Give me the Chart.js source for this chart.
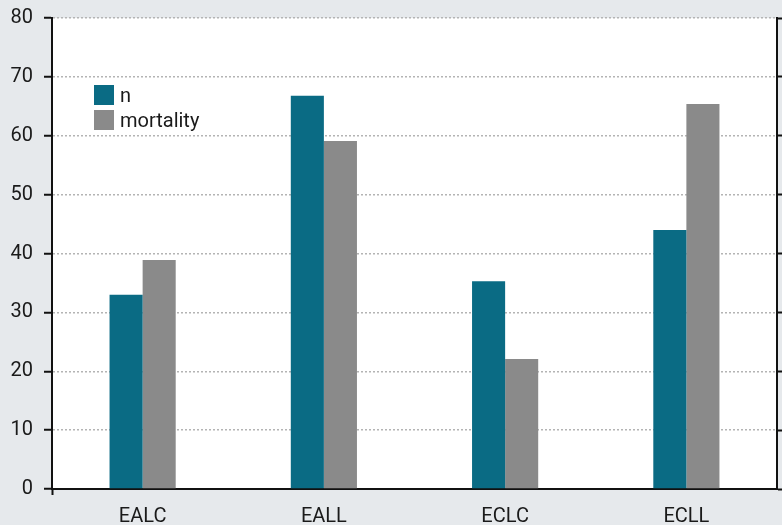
<!DOCTYPE html>
<html>
<head>
<meta charset="utf-8">
<script src="https://cdn.jsdelivr.net/npm/chart.js@4.4.1/dist/chart.umd.min.js"></script>
<style>
    html, body { margin: 0; padding: 0; background: #e6e9ec; }
    #wrap { position: relative; width: 782px; height: 525px; }
    #legend { position: absolute; left: 94px; top: 85px; font-family: Roboto, sans-serif; font-size: 20px; color: #1a1a1a; }
    #legend .row { display: flex; align-items: center; height: 20px; margin-bottom: 5px; }
    #legend .box { width: 20px; height: 20px; margin-right: 6px; }
</style>
</head>
<body>
<div id="wrap">
    <canvas id="chart" width="782" height="525"></canvas>
    <div id="legend"></div>
</div>
<script>
// Data
const categories = ['EALC', 'EALL', 'ECLC', 'ECLL'];
const nValues = [33, 66.8, 35.3, 44];
const mortalityValues = [38.9, 59.1, 22.1, 65.4];
const seriesNames = ['n', 'mortality'];
const seriesColors = ['#0a6b84', '#8a8a8a'];

const FONT = { family: 'Roboto, sans-serif', size: 20 };
const INK = '#1a1a1a';

// white plot area on the gray page
const plotBackground = {
    id: 'plotBackground',
    beforeDraw(chart) {
        const a = chart.chartArea;
        chart.ctx.save();
        chart.ctx.fillStyle = '#ffffff';
        chart.ctx.fillRect(a.left, a.top, a.right - a.left, a.bottom - a.top);
        chart.ctx.restore();
    }
};

// fixed axis widths, no extra padding for the edge labels
function fitVertical(width) {
    return (scale) => {
        scale.width = width;
        scale.paddingTop = 0;
        scale.paddingBottom = 0;
    };
}

const chart = new Chart(document.getElementById('chart'), {
    type: 'bar',
    data: {
        labels: categories,
        datasets: [
            { label: seriesNames[0], data: nValues, backgroundColor: seriesColors[0] },
            { label: seriesNames[1], data: mortalityValues, backgroundColor: seriesColors[1] }
        ]
    },
    options: {
        responsive: false,
        animation: false,
        layout: { padding: { top: 18, right: 0, bottom: 0, left: 0 } },
        datasets: { bar: { barPercentage: 1, categoryPercentage: 0.365 } },
        plugins: { legend: { display: false }, tooltip: { enabled: false } },
        scales: {
            x: {
                offset: true,
                grid: {
                    drawOnChartArea: false,
                    drawTicks: true,
                    tickLength: 6,
                    tickWidth: 2,
                    tickColor: (ctx) => (ctx.index === 0 || ctx.index === categories.length) ? '#111' : 'rgba(0,0,0,0)'
                },
                border: { color: '#111', width: 2 },
                ticks: { color: INK, font: FONT, padding: 10 },
                afterFit: (scale) => { scale.height = 36; }
            },
            y: {
                position: 'left',
                min: 0,
                max: 80,
                ticks: { stepSize: 10, color: INK, font: FONT, padding: 11 },
                grid: {
                    color: (ctx) => ctx.tick && ctx.tick.value === 0 ? 'rgba(0,0,0,0)' : '#b4b4b4',
                    lineWidth: 1.5,
                    tickColor: '#111',
                    tickWidth: 2,
                    tickLength: 8,
                    tickBorderDash: []
                },
                border: { color: '#111', width: 2, dash: [2, 2] },
                afterFit: fitVertical(52)
            },
            y2: {
                position: 'right',
                min: 0,
                max: 80,
                ticks: { stepSize: 10, display: false },
                grid: {
                    drawOnChartArea: false,
                    tickColor: '#111',
                    tickWidth: 2,
                    tickLength: 5,
                    tickBorderDash: []
                },
                border: { color: '#111', width: 2 },
                afterFit: fitVertical(5)
            }
        }
    },
    plugins: [plotBackground]
});

// HTML legend built from the datasets
const legendEl = document.getElementById('legend');
chart.data.datasets.forEach((ds) => {
    const row = document.createElement('div');
    row.className = 'row';
    const box = document.createElement('span');
    box.className = 'box';
    box.style.background = ds.backgroundColor;
    const label = document.createElement('span');
    label.textContent = ds.label;
    row.appendChild(box);
    row.appendChild(label);
    legendEl.appendChild(row);
});
</script>
</body>
</html>
